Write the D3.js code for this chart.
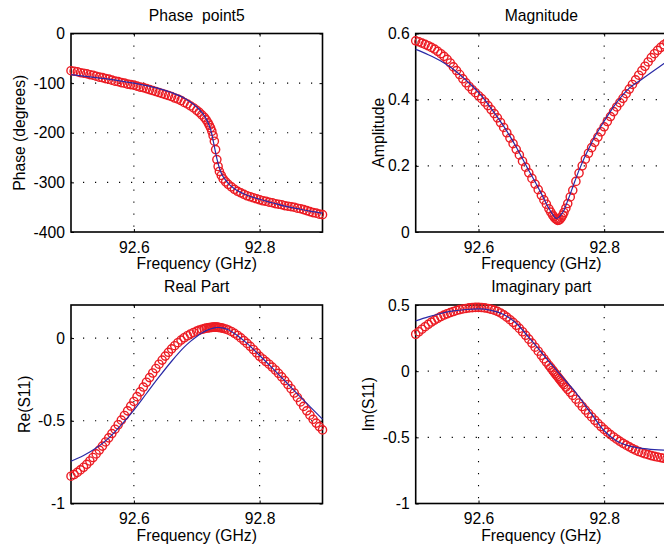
<!DOCTYPE html>
<html>
<head>
<meta charset="utf-8">
<script src="https://cdn.jsdelivr.net/npm/d3@7"></script>
<style>
body { margin: 0; background: #fff; }
text { font-family: "Liberation Sans", Arial, Helvetica, sans-serif; font-size: 15.7px; fill: #000; }
</style>
</head>
<body>
<div id="chart"></div>
<script>
// measured sweep (GHz), denser around the resonance
var freq = [92.500, 92.505, 92.510, 92.515, 92.520, 92.525, 92.530, 92.535, 92.540, 92.545,
            92.550, 92.555, 92.560, 92.565, 92.570, 92.575, 92.580, 92.585, 92.590, 92.595,
            92.600, 92.605, 92.610, 92.615, 92.620, 92.625, 92.630, 92.635, 92.640, 92.645,
            92.650, 92.655, 92.660, 92.665, 92.670, 92.675, 92.680, 92.685, 92.690, 92.695,
            92.700,
            92.704, 92.708, 92.712, 92.715, 92.718, 92.720, 92.722, 92.724, 92.726, 92.728,
            92.730, 92.732, 92.734, 92.736, 92.739, 92.742, 92.746, 92.750,
            92.755, 92.760, 92.765, 92.770, 92.775, 92.780, 92.785, 92.790, 92.795, 92.800,
            92.805, 92.810, 92.815, 92.820, 92.825, 92.830, 92.835, 92.840, 92.845, 92.850,
            92.855, 92.860, 92.865, 92.870, 92.875, 92.880, 92.885, 92.890, 92.895, 92.900];

var phaseMeas = [-75, -76, -77, -79, -80, -81, -83, -84, -86, -88,
                 -89, -91, -92, -94, -96, -97, -99, -100, -102, -103,
                 -104, -106, -108, -109, -111, -113, -115, -117, -119, -121,
                 -123, -125, -127, -130, -132, -135, -139, -142, -146, -150,
                 -155,
                 -159, -164, -169, -174, -180, -185, -190, -197, -206, -217,
                 -234, -254, -268, -278, -286, -293, -299, -304,
                 -309, -314, -318, -321, -324, -327, -329, -331, -333, -335,
                 -337, -338, -340, -341, -343, -344, -345, -347, -348, -349,
                 -350, -352, -353, -355, -357, -359, -361, -362, -364, -365];

var magMeas = [0.578, 0.575, 0.571, 0.567, 0.563, 0.558, 0.553, 0.546, 0.539, 0.531,
               0.522, 0.511, 0.499, 0.488, 0.476, 0.463, 0.451, 0.440, 0.430, 0.421,
               0.412, 0.403, 0.393, 0.382, 0.370, 0.358, 0.345, 0.331, 0.316, 0.300,
               0.284, 0.267, 0.250, 0.233, 0.214, 0.196, 0.179, 0.162, 0.145, 0.128,
               0.111,
               0.097, 0.084, 0.070, 0.060, 0.051, 0.046, 0.041, 0.038, 0.035, 0.036,
               0.039, 0.044, 0.051, 0.059, 0.072, 0.086, 0.106, 0.126,
               0.153, 0.178, 0.200, 0.220, 0.238, 0.255, 0.271, 0.287, 0.303, 0.318,
               0.334, 0.349, 0.364, 0.378, 0.391, 0.404, 0.418, 0.432, 0.446, 0.460,
               0.474, 0.488, 0.501, 0.514, 0.527, 0.539, 0.549, 0.558, 0.566, 0.573];

var reMeas = [-0.835, -0.825, -0.812, -0.797, -0.781, -0.763, -0.743, -0.722, -0.700, -0.677,
              -0.653, -0.628, -0.603, -0.577, -0.551, -0.524, -0.496, -0.468, -0.440, -0.411,
              -0.383, -0.354, -0.325, -0.296, -0.267, -0.239, -0.211, -0.184, -0.158, -0.133,
              -0.109, -0.086, -0.065, -0.046, -0.028, -0.012, 0.002, 0.014, 0.025, 0.034,
              0.042,
              0.048, 0.053, 0.057, 0.060, 0.062, 0.063, 0.064, 0.065, 0.066, 0.066,
              0.066, 0.066, 0.065, 0.064, 0.062, 0.059, 0.055, 0.049,
              0.040, 0.029, 0.016, 0.001, -0.015, -0.032, -0.050, -0.069, -0.089, -0.110,
              -0.126, -0.142, -0.158, -0.175, -0.193, -0.213, -0.234, -0.257, -0.281, -0.306,
              -0.332, -0.359, -0.386, -0.413, -0.440, -0.466, -0.491, -0.514, -0.535, -0.555];

var imMeas = [0.279, 0.298, 0.317, 0.336, 0.354, 0.371, 0.386, 0.400, 0.413, 0.424,
              0.434, 0.443, 0.451, 0.459, 0.465, 0.470, 0.474, 0.478, 0.480, 0.482,
              0.482, 0.481, 0.478, 0.474, 0.468, 0.461, 0.452, 0.440, 0.425, 0.408,
              0.389, 0.369, 0.347, 0.323, 0.298, 0.271, 0.242, 0.212, 0.181, 0.151,
              0.120,
              0.094, 0.069, 0.044, 0.026, 0.007, -0.005, -0.018, -0.030, -0.042, -0.054,
              -0.066, -0.078, -0.090, -0.102, -0.120, -0.137, -0.160, -0.183,
              -0.212, -0.240, -0.267, -0.294, -0.320, -0.346, -0.371, -0.395, -0.418, -0.440,
              -0.460, -0.479, -0.497, -0.514, -0.530, -0.545, -0.559, -0.572, -0.585, -0.597,
              -0.607, -0.616, -0.624, -0.631, -0.638, -0.644, -0.649, -0.654, -0.658, -0.661];

// fitted model
var fitFreq = [92.50, 92.52, 92.54, 92.56, 92.58, 92.60, 92.62, 92.64, 92.66, 92.68,
               92.69, 92.70, 92.71, 92.715, 92.72, 92.724, 92.728, 92.732, 92.736, 92.74,
               92.745, 92.75, 92.76, 92.78, 92.80, 92.82, 92.84, 92.86, 92.88, 92.90];

var phaseFit = [-83, -86, -89, -92, -96, -100, -105, -111, -119, -130,
                -138, -148, -162, -172, -186, -203, -228, -252, -271, -284,
                -294, -302, -313, -326, -334, -341, -348, -353, -358, -362];

var magFit = [0.552, 0.536, 0.517, 0.492, 0.459, 0.422, 0.374, 0.320, 0.257, 0.186,
              0.152, 0.116, 0.078, 0.062, 0.048, 0.041, 0.045, 0.054, 0.066, 0.085,
              0.110, 0.136, 0.187, 0.270, 0.335, 0.392, 0.435, 0.462, 0.489, 0.516];

var reFit = [-0.745, -0.710, -0.665, -0.605, -0.525, -0.435, -0.335, -0.235, -0.140, -0.055,
             -0.020, 0.010, 0.035, 0.045, 0.053, 0.058, 0.062, 0.064, 0.064, 0.062,
             0.057, 0.050, 0.028, -0.032, -0.105, -0.180, -0.258, -0.337, -0.414, -0.490];

var imFit = [0.380, 0.410, 0.436, 0.455, 0.466, 0.470, 0.460, 0.428, 0.362, 0.255,
             0.200, 0.143, 0.086, 0.058, 0.030, 0.008, -0.014, -0.036, -0.058, -0.080,
             -0.107, -0.134, -0.195, -0.325, -0.450, -0.527, -0.565, -0.584, -0.593, -0.597];

var freqDomain = [92.5, 92.9];
var freqTicks = [92.6, 92.8];
var phaseTicks = [-400, -300, -200, -100, 0];
var magTicks = [0, 0.2, 0.4, 0.6];
var reTicks = [-1, -0.5, 0];
var imTicks = [-1, -0.5, 0, 0.5];

var red = "#ec1c24";
var blue = "#2a2aa6";

var svg = d3.select("#chart").append("svg")
    .attr("width", 664)
    .attr("height", 548)
    .style("display", "block");

var panels = [
    {title: "Phase  point5", ylabel: "Phase (degrees)", left: 71, top: 33.5, width: 251.5, height: 198.5,
     yDomain: [-400, 0], yTicks: phaseTicks, meas: phaseMeas, fit: phaseFit, ylabelX: 24.5},
    {title: "Magnitude", ylabel: "Amplitude", left: 415.7, top: 33.5, width: 251.3, height: 198.5,
     yDomain: [0, 0.6], yTicks: magTicks, meas: magMeas, fit: magFit, ylabelX: 383.5},
    {title: "Real Part", ylabel: "Re(S11)", left: 71, top: 305, width: 251.5, height: 198.5,
     yDomain: [-1, 0.2], yTicks: reTicks, meas: reMeas, fit: reFit, ylabelX: 29.5},
    {title: "Imaginary part", ylabel: "Im(S11)", left: 415.7, top: 305, width: 251.3, height: 198.5,
     yDomain: [-1, 0.5], yTicks: imTicks, meas: imMeas, fit: imFit, ylabelX: 374}
];

function inside(ticks, domain) {
    return ticks.filter(function(t) { return t > d3.min(domain) + 1e-9 && t < d3.max(domain) - 1e-9; });
}

function drawPanel(p) {
    var bottom = p.top + p.height;
    var x = d3.scaleLinear().domain(freqDomain).range([p.left, p.left + p.width]);
    var y = d3.scaleLinear().domain(p.yDomain).range([bottom, p.top]);
    var g = svg.append("g");

    // dotted grid
    g.selectAll(".vgrid")
        .data(inside(freqTicks, freqDomain))
        .enter().append("line")
        .attr("x1", function(d) { return x(d); })
        .attr("x2", function(d) { return x(d); })
        .attr("y1", p.top)
        .attr("y2", bottom)
        .attr("stroke", "#000")
        .attr("stroke-width", 1.1)
        .attr("stroke-dasharray", "1.2,10.8");
    g.selectAll(".hgrid")
        .data(inside(p.yTicks, p.yDomain))
        .enter().append("line")
        .attr("x1", p.left)
        .attr("x2", p.left + p.width)
        .attr("y1", function(d) { return y(d); })
        .attr("y2", function(d) { return y(d); })
        .attr("stroke", "#000")
        .attr("stroke-width", 1.1)
        .attr("stroke-dasharray", "1.2,10.8");

    // axes with inward ticks on all four sides
    var fmt = function(d) { return String(d); };
    g.append("g")
        .attr("transform", "translate(0," + bottom + ")")
        .call(d3.axisBottom(x).tickValues(freqTicks).tickSizeInner(-3).tickSizeOuter(0).tickPadding(9.5).tickFormat(fmt))
        .call(function(a) { a.select(".domain").remove(); });
    g.append("g")
        .attr("transform", "translate(0," + p.top + ")")
        .call(d3.axisTop(x).tickValues(freqTicks).tickSizeInner(-3).tickSizeOuter(0).tickFormat(""))
        .call(function(a) { a.select(".domain").remove(); });
    g.append("g")
        .attr("transform", "translate(" + p.left + ",0)")
        .call(d3.axisLeft(y).tickValues(p.yTicks).tickSizeInner(-3).tickSizeOuter(0).tickPadding(6).tickFormat(fmt))
        .call(function(a) { a.select(".domain").remove(); });
    g.append("g")
        .attr("transform", "translate(" + (p.left + p.width) + ",0)")
        .call(d3.axisRight(y).tickValues(p.yTicks).tickSizeInner(-3).tickSizeOuter(0).tickFormat(""))
        .call(function(a) { a.select(".domain").remove(); });

    g.append("rect")
        .attr("x", p.left)
        .attr("y", p.top)
        .attr("width", p.width)
        .attr("height", p.height)
        .attr("fill", "none")
        .attr("stroke", "#000")
        .attr("stroke-width", 1.6);

    // measured points
    var pts = freq.map(function(f, i) { return {f: f, v: p.meas[i]}; });
    g.append("g").selectAll("circle")
        .data(pts)
        .enter().append("circle")
        .attr("cx", function(d) { return x(d.f); })
        .attr("cy", function(d) { return y(d.v); })
        .attr("r", 4.1)
        .attr("fill", "none")
        .attr("stroke", red)
        .attr("stroke-width", 1.4);

    // fit
    var line = d3.line()
        .x(function(d) { return x(d.f); })
        .y(function(d) { return y(d.v); })
        .curve(d3.curveMonotoneX);
    g.append("path")
        .datum(fitFreq.map(function(f, i) { return {f: f, v: p.fit[i]}; }))
        .attr("d", line)
        .attr("fill", "none")
        .attr("stroke", blue)
        .attr("stroke-width", 1.2);

    // labels
    g.append("text")
        .attr("x", p.left + p.width / 2)
        .attr("y", p.top - 13)
        .attr("text-anchor", "middle")
        .style("white-space", "pre")
        .text(p.title);
    g.append("text")
        .attr("x", p.left + p.width / 2)
        .attr("y", bottom + 37)
        .attr("text-anchor", "middle")
        .text("Frequency (GHz)");
    g.append("text")
        .attr("transform", "translate(" + p.ylabelX + "," + (p.top + p.height / 2) + ") rotate(-90)")
        .attr("text-anchor", "middle")
        .text(p.ylabel);
}

panels.forEach(drawPanel);
</script>
</body>
</html>
